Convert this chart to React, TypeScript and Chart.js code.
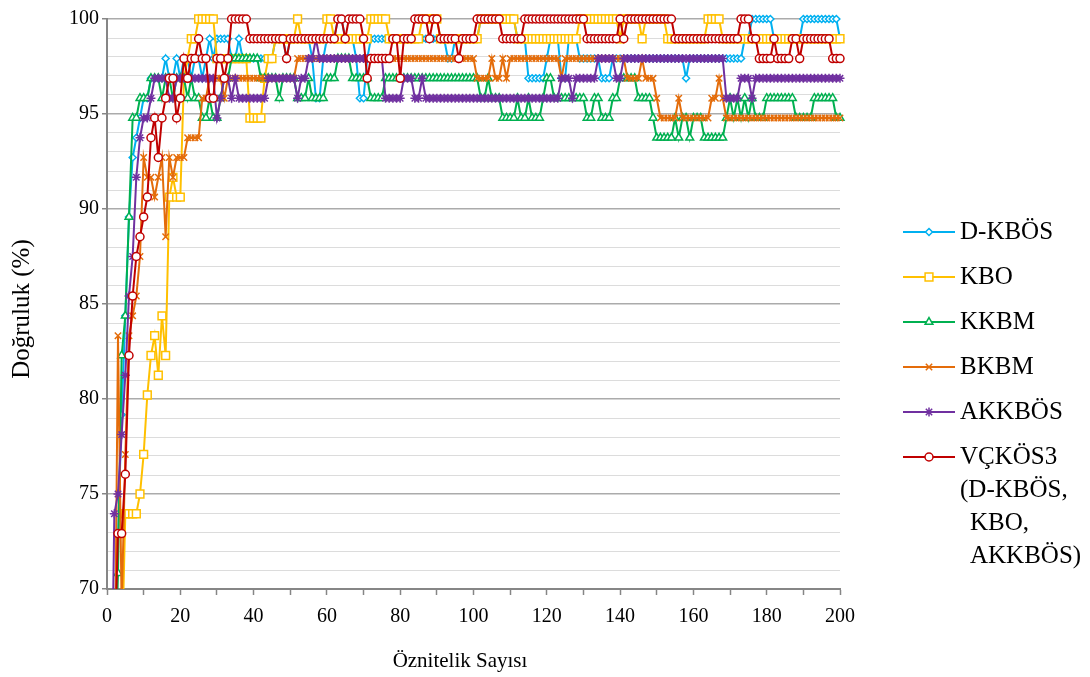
import React, { useEffect, useRef } from 'react';
import { Chart, registerables } from 'chart.js';

Chart.register(...registerables);

// x categories: number of features (1..200)
const featureCounts: number[] = Array.from({ length: 200 }, (_, i) => i + 1);

const seriesNames = ['D-KBÖS', 'KBO', 'KKBM', 'BKBM', 'AKKBÖS', 'VÇKÖS3'];
const legendLines = [['D-KBÖS'], ['KBO'], ['KKBM'], ['BKBM'], ['AKKBÖS'], ['VÇKÖS3', '(D-KBÖS,', 'KBO,', 'AKKBÖS)']];
const xTitle = 'Öznitelik Sayısı';
const yTitle = 'Doğruluk (%)';

const dKBOS = [
  60, 66, 72.92, 79.17, 84.38, 89.58, 92.71, 93.75, 94.79, 95.83,
  95.83, 96.88, 96.88, 96.88, 96.88, 97.92, 96.88, 96.88, 97.92, 96.88,
  97.92, 97.92, 96.88, 97.92, 97.92, 96.88, 97.92, 98.96, 97.92, 98.96,
  98.96, 98.96, 98.96, 97.92, 97.92, 98.96, 97.92, 97.92, 97.92, 97.92,
  97.92, 97.92, 97.92, 97.92, 97.92, 98.96, 98.96, 98.96, 97.92, 98.96,
  98.96, 98.96, 98.96, 98.96, 98.96, 97.92, 95.83, 95.83, 97.92, 98.96,
  98.96, 98.96, 100, 100, 98.96, 98.96, 98.96, 97.92, 95.83, 95.83,
  97.92, 98.96, 98.96, 98.96, 98.96, 98.96, 98.96, 98.96, 98.96, 98.96,
  98.96, 98.96, 98.96, 98.96, 98.96, 98.96, 98.96, 98.96, 98.96, 98.96,
  98.96, 98.96, 97.92, 97.92, 98.96, 98.96, 98.96, 98.96, 98.96, 98.96,
  98.96, 100, 100, 100, 100, 100, 100, 100, 100, 100,
  100, 98.96, 98.96, 98.96, 96.88, 96.88, 96.88, 96.88, 96.88, 97.92,
  98.96, 98.96, 98.96, 96.88, 96.88, 98.96, 98.96, 98.96, 97.92, 97.92,
  97.92, 97.92, 97.92, 97.92, 96.88, 96.88, 96.88, 97.92, 97.92, 97.92,
  97.92, 97.92, 97.92, 97.92, 97.92, 97.92, 97.92, 97.92, 97.92, 97.92,
  97.92, 97.92, 97.92, 97.92, 97.92, 97.92, 97.92, 96.88, 97.92, 97.92,
  97.92, 97.92, 97.92, 97.92, 97.92, 97.92, 97.92, 97.92, 97.92, 97.92,
  97.92, 97.92, 97.92, 98.96, 98.96, 100, 100, 100, 100, 100,
  100, 98.96, 98.96, 98.96, 98.96, 98.96, 98.96, 98.96, 98.96, 100,
  100, 100, 100, 100, 100, 100, 100, 100, 100, 98.96,
];

const kbo = [
  55, 58, 62, 66, 73.96, 73.96, 73.96, 73.96, 75, 77.08,
  80.21, 82.29, 83.33, 81.25, 84.38, 82.29, 90.63, 91.67, 90.63, 90.63,
  96.88, 97.92, 98.96, 98.96, 100, 100, 100, 100, 100, 97.92,
  97.92, 97.92, 97.92, 97.92, 97.92, 97.92, 97.92, 97.92, 94.79, 94.79,
  94.79, 94.79, 96.88, 97.92, 97.92, 98.96, 98.96, 98.96, 98.96, 98.96,
  98.96, 100, 98.96, 98.96, 98.96, 98.96, 98.96, 98.96, 98.96, 100,
  100, 98.96, 98.96, 98.96, 98.96, 98.96, 98.96, 98.96, 98.96, 98.96,
  98.96, 100, 100, 100, 100, 100, 98.96, 98.96, 98.96, 98.96,
  98.96, 98.96, 98.96, 98.96, 98.96, 100, 100, 100, 100, 100,
  98.96, 98.96, 98.96, 98.96, 98.96, 98.96, 98.96, 98.96, 98.96, 98.96,
  98.96, 100, 100, 100, 100, 100, 100, 100, 100, 100,
  100, 98.96, 98.96, 98.96, 98.96, 98.96, 98.96, 98.96, 98.96, 98.96,
  98.96, 98.96, 98.96, 98.96, 98.96, 98.96, 98.96, 98.96, 100, 100,
  100, 100, 100, 100, 100, 100, 100, 100, 100, 98.96,
  100, 100, 100, 100, 100, 98.96, 100, 100, 100, 100,
  100, 100, 98.96, 98.96, 98.96, 98.96, 98.96, 98.96, 98.96, 98.96,
  98.96, 98.96, 98.96, 100, 100, 100, 100, 98.96, 98.96, 98.96,
  98.96, 98.96, 98.96, 98.96, 98.96, 98.96, 98.96, 98.96, 98.96, 98.96,
  98.96, 98.96, 98.96, 98.96, 98.96, 98.96, 98.96, 98.96, 98.96, 98.96,
  98.96, 98.96, 98.96, 98.96, 98.96, 98.96, 98.96, 98.96, 98.96, 98.96,
];

const kkbm = [
  60, 64, 70.83, 82.29, 84.38, 89.58, 94.79, 94.79, 95.83, 95.83,
  95.83, 96.88, 96.88, 96.88, 95.83, 96.88, 96.88, 95.83, 96.88, 96.88,
  96.88, 95.83, 96.88, 95.83, 95.83, 94.79, 94.79, 95.83, 94.79, 94.79,
  95.83, 96.88, 96.88, 97.92, 97.92, 97.92, 97.92, 97.92, 97.92, 97.92,
  97.92, 96.88, 96.88, 96.88, 96.88, 96.88, 95.83, 96.88, 96.88, 96.88,
  96.88, 95.83, 95.83, 95.83, 96.88, 95.83, 95.83, 95.83, 95.83, 96.88,
  96.88, 96.88, 97.92, 97.92, 97.92, 97.92, 96.88, 96.88, 96.88, 96.88,
  96.88, 95.83, 95.83, 95.83, 95.83, 96.88, 96.88, 96.88, 96.88, 96.88,
  96.88, 96.88, 96.88, 96.88, 96.88, 96.88, 96.88, 96.88, 96.88, 96.88,
  96.88, 96.88, 96.88, 96.88, 96.88, 96.88, 96.88, 96.88, 96.88, 96.88,
  96.88, 95.83, 95.83, 96.88, 95.83, 95.83, 95.83, 94.79, 94.79, 94.79,
  94.79, 95.83, 94.79, 94.79, 95.83, 94.79, 94.79, 94.79, 95.83, 96.88,
  96.88, 95.83, 95.83, 95.83, 95.83, 95.83, 95.83, 95.83, 95.83, 95.83,
  94.79, 94.79, 95.83, 95.83, 94.79, 94.79, 94.79, 95.83, 95.83, 96.88,
  96.88, 96.88, 96.88, 96.88, 95.83, 95.83, 95.83, 95.83, 94.79, 93.75,
  93.75, 93.75, 93.75, 93.75, 94.79, 93.75, 94.79, 94.79, 93.75, 94.79,
  94.79, 94.79, 93.75, 93.75, 93.75, 93.75, 93.75, 93.75, 94.79, 95.83,
  94.79, 95.83, 94.79, 95.83, 94.79, 95.83, 94.79, 94.79, 94.79, 95.83,
  95.83, 95.83, 95.83, 95.83, 95.83, 95.83, 95.83, 94.79, 94.79, 94.79,
  94.79, 94.79, 95.83, 95.83, 95.83, 95.83, 95.83, 95.83, 94.79, 94.79,
];

const bkbm = [
  55, 62, 83.33, 69, 77.08, 83.33, 84.38, 85.42, 87.5, 92.71,
  91.67, 91.67, 90.63, 91.67, 92.71, 88.54, 92.71, 91.67, 92.71, 92.71,
  92.71, 93.75, 93.75, 93.75, 93.75, 95.83, 95.83, 96.88, 96.88, 96.88,
  96.88, 95.83, 96.88, 96.88, 96.88, 96.88, 96.88, 96.88, 96.88, 96.88,
  96.88, 96.88, 96.88, 96.88, 96.88, 96.88, 96.88, 96.88, 96.88, 96.88,
  96.88, 97.92, 97.92, 97.92, 97.92, 97.92, 97.92, 97.92, 97.92, 97.92,
  97.92, 97.92, 97.92, 97.92, 97.92, 97.92, 97.92, 97.92, 97.92, 97.92,
  97.92, 97.92, 97.92, 97.92, 97.92, 97.92, 97.92, 97.92, 97.92, 97.92,
  97.92, 97.92, 97.92, 97.92, 97.92, 97.92, 97.92, 97.92, 97.92, 97.92,
  97.92, 97.92, 97.92, 97.92, 97.92, 97.92, 97.92, 97.92, 97.92, 97.92,
  96.88, 96.88, 96.88, 96.88, 97.92, 96.88, 96.88, 97.92, 96.88, 97.92,
  97.92, 97.92, 97.92, 97.92, 97.92, 97.92, 97.92, 97.92, 97.92, 97.92,
  97.92, 97.92, 97.92, 96.88, 97.92, 97.92, 97.92, 97.92, 97.92, 97.92,
  97.92, 97.92, 97.92, 97.92, 97.92, 97.92, 97.92, 97.92, 97.92, 97.92,
  97.92, 96.88, 96.88, 96.88, 96.88, 97.92, 96.88, 96.88, 96.88, 95.83,
  94.79, 94.79, 94.79, 94.79, 94.79, 95.83, 94.79, 94.79, 94.79, 94.79,
  94.79, 94.79, 94.79, 94.79, 95.83, 95.83, 96.88, 95.83, 94.79, 94.79,
  94.79, 94.79, 94.79, 94.79, 94.79, 94.79, 94.79, 94.79, 94.79, 94.79,
  94.79, 94.79, 94.79, 94.79, 94.79, 94.79, 94.79, 94.79, 94.79, 94.79,
  94.79, 94.79, 94.79, 94.79, 94.79, 94.79, 94.79, 94.79, 94.79, 94.79,
];

const akkbos = [
  60, 73.96, 75, 78.13, 81.25, 85.42, 87.5, 91.67, 93.75, 94.79,
  94.79, 95.83, 96.88, 96.88, 96.88, 96.88, 95.83, 95.83, 96.88, 96.88,
  96.88, 96.88, 96.88, 96.88, 96.88, 96.88, 96.88, 96.88, 96.88, 94.79,
  95.83, 96.88, 96.88, 95.83, 96.88, 95.83, 95.83, 95.83, 95.83, 95.83,
  95.83, 95.83, 95.83, 96.88, 96.88, 96.88, 96.88, 96.88, 96.88, 96.88,
  96.88, 95.83, 96.88, 96.88, 97.92, 97.92, 98.96, 97.92, 97.92, 97.92,
  97.92, 97.92, 97.92, 97.92, 97.92, 97.92, 97.92, 97.92, 97.92, 97.92,
  97.92, 97.92, 97.92, 97.92, 97.92, 95.83, 95.83, 95.83, 95.83, 95.83,
  96.88, 96.88, 96.88, 95.83, 95.83, 96.88, 95.83, 95.83, 95.83, 95.83,
  95.83, 95.83, 95.83, 95.83, 95.83, 95.83, 95.83, 95.83, 95.83, 95.83,
  95.83, 95.83, 95.83, 95.83, 95.83, 95.83, 95.83, 95.83, 95.83, 95.83,
  95.83, 95.83, 95.83, 95.83, 95.83, 95.83, 95.83, 95.83, 95.83, 95.83,
  95.83, 95.83, 95.83, 96.88, 96.88, 96.88, 95.83, 96.88, 96.88, 96.88,
  96.88, 96.88, 96.88, 97.92, 97.92, 97.92, 97.92, 97.92, 96.88, 96.88,
  97.92, 97.92, 97.92, 97.92, 97.92, 97.92, 97.92, 97.92, 97.92, 97.92,
  97.92, 97.92, 97.92, 97.92, 97.92, 97.92, 97.92, 97.92, 97.92, 97.92,
  97.92, 97.92, 97.92, 97.92, 97.92, 97.92, 97.92, 97.92, 95.83, 95.83,
  95.83, 95.83, 96.88, 96.88, 96.88, 95.83, 96.88, 96.88, 96.88, 96.88,
  96.88, 96.88, 96.88, 96.88, 96.88, 96.88, 96.88, 96.88, 96.88, 96.88,
  96.88, 96.88, 96.88, 96.88, 96.88, 96.88, 96.88, 96.88, 96.88, 96.88,
];

const vckos3 = [
  60, 66, 72.92, 72.92, 76.04, 82.29, 85.42, 87.5, 88.54, 89.58,
  90.63, 93.75, 94.79, 92.71, 94.79, 95.83, 96.88, 96.88, 94.79, 95.83,
  97.92, 96.88, 97.92, 97.92, 98.96, 97.92, 97.92, 95.83, 95.83, 97.92,
  97.92, 96.88, 97.92, 100, 100, 100, 100, 100, 98.96, 98.96,
  98.96, 98.96, 98.96, 98.96, 98.96, 98.96, 98.96, 98.96, 97.92, 98.96,
  98.96, 98.96, 98.96, 98.96, 98.96, 98.96, 98.96, 98.96, 98.96, 98.96,
  98.96, 98.96, 100, 100, 98.96, 100, 100, 100, 100, 98.96,
  96.88, 97.92, 97.92, 97.92, 97.92, 97.92, 97.92, 98.96, 98.96, 96.88,
  98.96, 98.96, 98.96, 100, 100, 100, 100, 98.96, 100, 100,
  98.96, 98.96, 98.96, 98.96, 98.96, 97.92, 98.96, 98.96, 98.96, 98.96,
  100, 100, 100, 100, 100, 100, 100, 98.96, 98.96, 98.96,
  98.96, 98.96, 98.96, 100, 100, 100, 100, 100, 100, 100,
  100, 100, 100, 100, 100, 100, 100, 100, 100, 100,
  98.96, 98.96, 98.96, 98.96, 98.96, 98.96, 98.96, 98.96, 98.96, 100,
  98.96, 100, 100, 100, 100, 100, 100, 100, 100, 100,
  100, 100, 100, 100, 98.96, 98.96, 98.96, 98.96, 98.96, 98.96,
  98.96, 98.96, 98.96, 98.96, 98.96, 98.96, 98.96, 98.96, 98.96, 98.96,
  98.96, 98.96, 100, 100, 100, 98.96, 98.96, 97.92, 97.92, 97.92,
  97.92, 98.96, 97.92, 97.92, 97.92, 97.92, 98.96, 98.96, 97.92, 98.96,
  98.96, 98.96, 98.96, 98.96, 98.96, 98.96, 98.96, 97.92, 97.92, 97.92,
];

const seriesValues = [dKBOS, kbo, kkbm, bkbm, akkbos, vckos3];
const seriesColors = ['#00B0F0', '#FFC000', '#00B050', '#E46C0A', '#7030A0', '#C00000'];
const seriesMarkers = ['rectRot', 'rect', 'triangle', 'crossRot', 'star', 'circle'];
const markerRadii = [3.5, 5.5, 4.5, 4.5, 4.5, 4];

const FONT = '"Liberation Serif", "Times New Roman", serif';

function drawMarker(ctx: CanvasRenderingContext2D, style: string, x: number, y: number, color: string) {
  ctx.save();
  ctx.strokeStyle = color;
  ctx.fillStyle = '#ffffff';
  ctx.lineWidth = 1.5;
  ctx.beginPath();
  if (style === 'rectRot') {
    const r = 3.5;
    ctx.moveTo(x, y - r); ctx.lineTo(x + r, y); ctx.lineTo(x, y + r); ctx.lineTo(x - r, y); ctx.closePath();
    ctx.fill(); ctx.stroke();
  } else if (style === 'rect') {
    const s = 3.9;
    ctx.rect(x - s, y - s, 2 * s, 2 * s);
    ctx.fill(); ctx.stroke();
  } else if (style === 'triangle') {
    const r = 4.5;
    ctx.moveTo(x, y - r); ctx.lineTo(x + r * 0.866, y + r * 0.5); ctx.lineTo(x - r * 0.866, y + r * 0.5); ctx.closePath();
    ctx.fill(); ctx.stroke();
  } else if (style === 'crossRot' || style === 'star') {
    const d = 4.5 * Math.SQRT1_2;
    ctx.moveTo(x - d, y - d); ctx.lineTo(x + d, y + d);
    ctx.moveTo(x - d, y + d); ctx.lineTo(x + d, y - d);
    if (style === 'star') {
      ctx.moveTo(x, y - 4.5); ctx.lineTo(x, y + 4.5);
      ctx.moveTo(x - 4.5, y); ctx.lineTo(x + 4.5, y);
    }
    ctx.stroke();
  } else {
    ctx.arc(x, y, 4, 0, Math.PI * 2);
    ctx.fill(); ctx.stroke();
  }
  ctx.restore();
}

const legendPlugin = {
  id: 'sideLegend',
  afterDraw(chart: any) {
    const ctx: CanvasRenderingContext2D = chart.ctx;
    const tops = [232, 277, 322, 367, 412, 457];
    const lineGap = 33;
    const indents = [0, 0, 10, 10];
    ctx.save();
    legendLines.forEach((lines, i) => {
      const y = tops[i];
      ctx.strokeStyle = seriesColors[i];
      ctx.lineWidth = 2;
      ctx.beginPath();
      ctx.moveTo(903, y);
      ctx.lineTo(955, y);
      ctx.stroke();
      drawMarker(ctx, seriesMarkers[i], 929, y, seriesColors[i]);
      ctx.fillStyle = '#000';
      ctx.font = `25px ${FONT}`;
      ctx.textBaseline = 'middle';
      ctx.textAlign = 'left';
      lines.forEach((t, j) => ctx.fillText(t, 960 + (indents[j] || 0), y + j * lineGap));
    });
    // axis titles
    ctx.fillStyle = '#000';
    ctx.textAlign = 'center';
    ctx.textBaseline = 'middle';
    ctx.font = `21px ${FONT}`;
    ctx.fillText(xTitle, 460, 661);
    ctx.save();
    ctx.translate(22, 309);
    ctx.rotate(-Math.PI / 2);
    ctx.font = `25px ${FONT}`;
    ctx.fillText(yTitle, 0, 0);
    ctx.restore();
    ctx.restore();
  },
};

export default function App() {
  const ref = useRef<HTMLCanvasElement>(null);
  useEffect(() => {
    if (!ref.current) return;
    Chart.defaults.font.family = FONT;
    const chart = new Chart(ref.current, {
      type: 'line',
      data: {
        labels: featureCounts,
        datasets: seriesValues.map((vals, i) => ({
          label: seriesNames[i],
          data: vals,
          borderColor: seriesColors[i],
          backgroundColor: '#ffffff',
          borderWidth: 2,
          pointStyle: seriesMarkers[i] as any,
          pointRadius: markerRadii[i],
          pointBorderWidth: 1.5,
          pointBorderColor: seriesColors[i],
          pointBackgroundColor: '#ffffff',
          tension: 0,
          order: 5 - i,
          clip: { left: 5, top: 10, right: 10, bottom: 0 } as any,
        })),
      },
      options: {
        responsive: false,
        animation: false,
        devicePixelRatio: 1,
        layout: { padding: { left: 0, top: 19, right: 250, bottom: 0 } },
        plugins: { legend: { display: false }, tooltip: { enabled: false } },
        scales: {
          x: {
            type: 'linear',
            min: 0,
            max: 200,
            ticks: {
              stepSize: 10,
              autoSkip: false,
              maxRotation: 0,
              color: '#000',
              padding: 10,
              font: { family: FONT, size: 20 },
              callback: (v: any) => (Number(v) % 20 === 0 ? String(v) : ''),
            },
            grid: { drawOnChartArea: false, drawTicks: true, tickLength: 6, tickColor: '#868686', tickWidth: 1.5 },
            border: { color: '#868686', width: 2 },
            title: { display: false },
            afterFit: (s: any) => { s.height = 88; },
          },
          y: {
            min: 70,
            max: 100,
            ticks: {
              stepSize: 1,
              autoSkip: false,
              color: '#000',
              padding: 3,
              font: { family: FONT, size: 20 },
              callback: (v: any) => (Number(v) % 5 === 0 ? String(v) : ''),
            },
            grid: {
              color: (c: any) => (c.tick && c.tick.value % 5 === 0 ? '#ababab' : '#dcdcdc'),
              lineWidth: (c: any) => (c.tick && c.tick.value % 5 === 0 ? 1.5 : 1),
              tickLength: 5,
              tickColor: (c: any) => (c.tick && c.tick.value % 5 === 0 ? '#868686' : 'rgba(0,0,0,0)'),
            },
            border: { color: '#868686', width: 2 },
            title: { display: false },
            afterFit: (s: any) => { s.width = 107; },
          },
        },
      },
      plugins: [legendPlugin],
    } as any);
    return () => chart.destroy();
  }, []);
  return (
    <div style={{ position: 'fixed', left: 0, top: 0, width: 1090, height: 677, background: '#fff' }}>
      <canvas ref={ref} width={1090} height={677} style={{ display: 'block' }} />
    </div>
  );
}
